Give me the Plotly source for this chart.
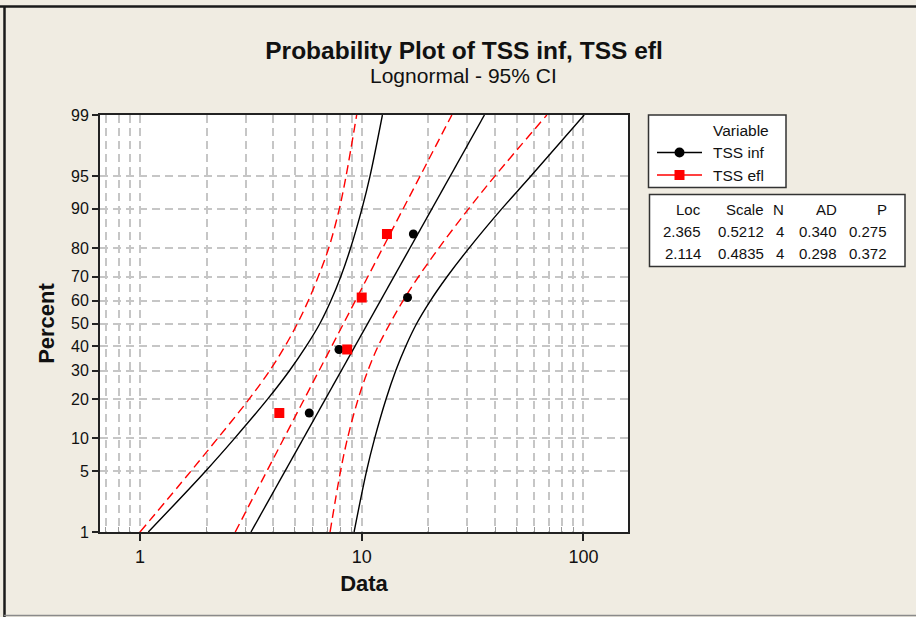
import math
from statistics import NormalDist
import plotly.graph_objects as go

# Ranked observations and their plotting percentiles
point_pct = [15.9, 38.6, 61.4, 84.1]
tss_inf = [5.8, 7.9, 16.1, 17.1]
tss_efl = [4.25, 8.6, 10.0, 13.0]

# Lognormal fit summary (location / scale of ln data) and goodness of fit
series_names = ["TSS inf", "TSS efl"]
fit_loc = [2.365, 2.114]
fit_scale = [0.5212, 0.4835]
fit_n = [4, 4]
fit_ad = [0.340, 0.298]
fit_p = [0.275, 0.372]

# 95% confidence bands for the percentiles
band_pct = [1, 5, 10, 20, 30, 40, 50, 60, 70, 80, 90, 95, 99]
inf_lower = [1.09, 1.98, 2.67, 3.77, 4.73, 5.62, 6.48, 7.26, 8.05, 8.91, 10.03, 10.90, 12.40]
inf_upper = [9.24, 10.52, 11.44, 12.88, 14.25, 15.80, 17.7, 20.4, 24.3, 30.5, 42.9, 58.0, 100.8]
efl_lower = [1.00, 1.70, 2.24, 3.11, 3.85, 4.51, 5.13, 5.74, 6.37, 7.10, 7.93, 8.50, 9.49]
efl_upper = [7.20, 8.03, 8.63, 9.64, 10.67, 11.86, 13.42, 15.35, 18.07, 22.27, 30.4, 39.9, 68.4]

# Axis ticks
pct_ticks = [1, 5, 10, 20, 30, 40, 50, 60, 70, 80, 90, 95, 99]
x_major = [1, 10, 100]
x_minor = [0.7, 0.8, 0.9, 2, 3, 4, 5, 6, 7, 8, 9, 20, 30, 40, 50, 60, 70, 80, 90]

nd = NormalDist()


def zq(p):
    return nd.inv_cdf(p / 100.0)


FONT = "Liberation Sans, Arial, sans-serif"
TXT = "#111111"
BLACK = "#000000"
RED = "#ff0000"
GRID = "#c6c6c6"
GRID_DASH = "8px,5px"
RED_DASH = "9px,5px"

# plot-area geometry in pixels (used for placing the side panels)
W_FIG, H_FIG = 916, 617
L, T, W, H = 100, 115, 528, 417


def px(x):
    return (x - L) / W


def py(y):
    return (T + H - y) / H


fig = go.Figure()

colors = [BLACK, RED]
dashes = ["solid", RED_DASH]
bands = [(inf_lower, inf_upper), (efl_lower, efl_upper)]
points = [tss_inf, tss_efl]
symbols = ["circle", "square"]
msizes = [9, 10]

z_band = [zq(p) for p in band_pct]

for i in range(2):
    lo, hi = bands[i]
    for bound in (lo, hi):
        fig.add_trace(go.Scatter(
            x=bound, y=z_band, mode="lines",
            line=dict(color=colors[i], width=1.4, dash=dashes[i], shape="spline", smoothing=1.0),
            hoverinfo="skip", showlegend=False))
    # fitted percentile line from the location/scale estimates
    fit_x = [math.exp(fit_loc[i] + fit_scale[i] * z) for z in z_band]
    fig.add_trace(go.Scatter(
        x=fit_x, y=z_band, mode="lines",
        line=dict(color=colors[i], width=1.4, dash=dashes[i]),
        hoverinfo="skip", showlegend=False))

for i in range(2):
    fig.add_trace(go.Scatter(
        x=points[i], y=[zq(p) for p in point_pct], mode="markers",
        marker=dict(color=colors[i], symbol=symbols[i], size=msizes[i], line=dict(width=0)),
        name=series_names[i], showlegend=False))

shapes = []
annotations = []

# outer frame of the graph window
shapes.append(dict(type="line", xref="paper", yref="paper", x0=px(0), x1=px(W_FIG),
                   y0=py(6.5), y1=py(6.5), line=dict(color="#1a1a1a", width=2.5)))
shapes.append(dict(type="line", xref="paper", yref="paper", x0=px(4.5), x1=px(4.5),
                   y0=py(6), y1=py(W_FIG), line=dict(color="#1a1a1a", width=2.5)))
shapes.append(dict(type="line", xref="paper", yref="paper", x0=px(4), x1=px(W_FIG),
                   y0=py(615.5), y1=py(615.5), line=dict(color="#8a8a8a", width=1.5)))

# legend panel
shapes.append(dict(type="rect", xref="paper", yref="paper", x0=px(648.5), x1=px(786),
                   y0=py(115), y1=py(187.5), fillcolor="white",
                   line=dict(color="#333333", width=1.5), layer="below"))
annotations.append(dict(text="Variable", xref="paper", yref="paper", x=px(711), y=py(130.5),
                        xanchor="left", yanchor="middle", showarrow=False,
                        font=dict(family=FONT, size=15.5, color=TXT)))
leg_y = [152.5, 175]
for i in range(2):
    shapes.append(dict(type="line", xref="paper", yref="paper", x0=px(657), x1=px(702),
                       y0=py(leg_y[i]), y1=py(leg_y[i]), line=dict(color=colors[i], width=1.5)))
    shapes.append(dict(type="circle" if i == 0 else "rect", xref="paper", yref="paper",
                       x0=px(674.5), x1=px(684.5), y0=py(leg_y[i] - 5), y1=py(leg_y[i] + 5),
                       fillcolor=colors[i], line=dict(color=colors[i], width=0)))
    annotations.append(dict(text=series_names[i], xref="paper", yref="paper", x=px(711),
                            y=py(leg_y[i]), xanchor="left", yanchor="middle", showarrow=False,
                            font=dict(family=FONT, size=15.5, color=TXT)))

# fit statistics panel
shapes.append(dict(type="rect", xref="paper", yref="paper", x0=px(649.5), x1=px(905),
                   y0=py(194.5), y1=py(266.5), fillcolor="white",
                   line=dict(color="#333333", width=1.5), layer="below"))
col_right = [702.7, 765.7, 786, 839, 889.3]
headers = ["Loc", "Scale", "N", "AD", "P"]
rows_y = [209, 231, 253.3]
table_rows = [headers]
for i in range(2):
    table_rows.append([f"{fit_loc[i]:.3f}", f"{fit_scale[i]:.4f}", f"{fit_n[i]}",
                       f"{fit_ad[i]:.3f}", f"{fit_p[i]:.3f}"])
for r, row in enumerate(table_rows):
    for c, cell in enumerate(row):
        annotations.append(dict(text=cell, xref="paper", yref="paper", x=px(col_right[c]),
                                y=py(rows_y[r]), xanchor="right", yanchor="middle",
                                showarrow=False, font=dict(family=FONT, size=15, color=TXT)))

# subtitle
annotations.append(dict(text="Lognormal - 95% CI", xref="paper", yref="paper", x=px(463),
                        y=py(76), xanchor="center", yanchor="middle", showarrow=False,
                        font=dict(family=FONT, size=21, color=TXT)))

fig.update_layout(
    width=W_FIG, height=H_FIG,
    margin=dict(l=L, r=W_FIG - L - W, t=T, b=H_FIG - T - H, autoexpand=False),
    paper_bgcolor="#f0ece2", plot_bgcolor="white",
    showlegend=False,
    title=dict(text="<b>Probability Plot of TSS inf, TSS efl</b>", xref="container",
               x=464 / W_FIG, xanchor="center", yref="container", y=1 - 50 / H_FIG,
               yanchor="middle", font=dict(family=FONT, size=24.5, color=TXT)),
    font=dict(family=FONT, size=16, color=TXT),
    shapes=shapes, annotations=annotations,
    xaxis=dict(
        type="log", range=[-40 / 221.7, (W - 40) / 221.7],
        tickmode="array", tickvals=x_major, ticktext=[str(v) for v in x_major],
        ticks="outside", ticklen=7, tickwidth=2, tickcolor="#222222",
        showline=True, linewidth=2, linecolor="#222222", mirror=True,
        showgrid=True, gridcolor=GRID, gridwidth=1.5, griddash=GRID_DASH,
        zeroline=False, tickfont=dict(family=FONT, size=18, color=TXT),
        minor=dict(tickmode="array", tickvals=x_minor, ticks="inside", ticklen=5,
                   tickcolor="#9a9a9a", tickwidth=1, showgrid=True, gridcolor=GRID,
                   gridwidth=1.5, griddash=GRID_DASH),
        title=dict(text="<b>Data</b>", standoff=10, font=dict(family=FONT, size=22, color=TXT)),
    ),
    yaxis=dict(
        range=[zq(1), zq(99)],
        tickmode="array", tickvals=[zq(p) for p in pct_ticks],
        ticktext=[str(p) for p in pct_ticks],
        ticks="outside", ticklen=6, tickwidth=2, tickcolor="#222222",
        showline=True, linewidth=2, linecolor="#222222", mirror=True,
        showgrid=True, gridcolor=GRID, gridwidth=1.5, griddash=GRID_DASH,
        zeroline=False, tickfont=dict(family=FONT, size=16, color=TXT),
        title=dict(text="<b>Percent</b>", standoff=10, font=dict(family=FONT, size=22, color=TXT)),
    ),
)

fig.write_html("out.html")
